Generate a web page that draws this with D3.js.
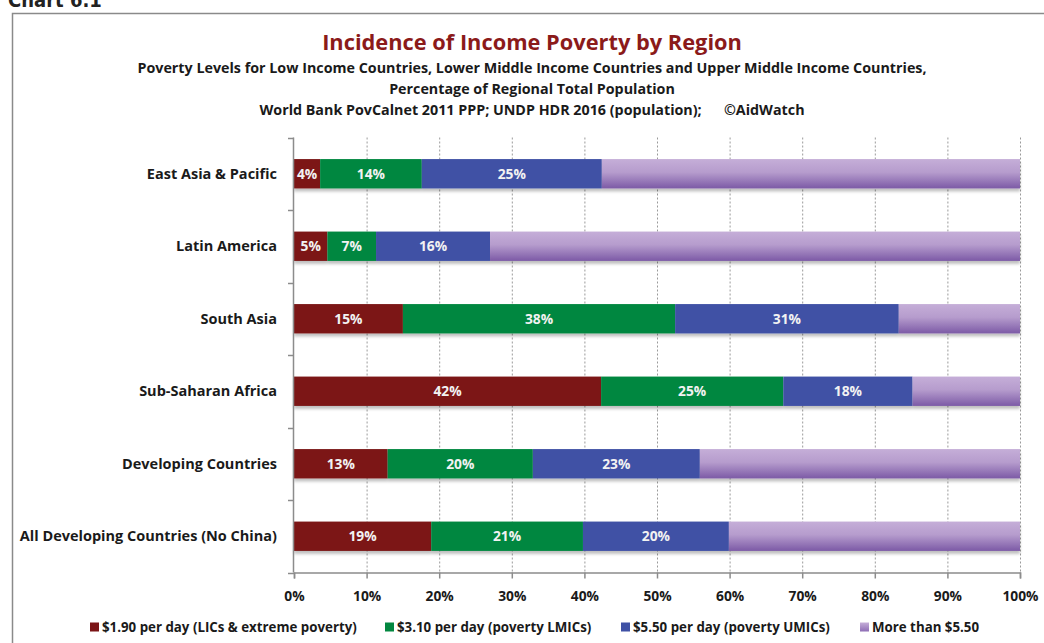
<!DOCTYPE html>
<html><head><meta charset="utf-8">
<script src="https://cdn.jsdelivr.net/npm/d3@7"></script>
<style>
body{margin:0;background:#fff;}
svg{display:block;font-family:"Open Sans",Lato,sans-serif;}
</style></head>
<body><svg id="c" width="1044" height="643"></svg>
<script>
const categories = ["East Asia & Pacific","Latin America","South Asia","Sub-Saharan Africa","Developing Countries","All Developing Countries (No China)"];
const seriesNames = ["$1.90 per day (LICs & extreme poverty)","$3.10 per day (poverty LMICs)","$5.50 per day (poverty UMICs)","More than $5.50"];
const s190 = [3.6, 4.6, 15.0, 42.3, 12.9, 18.9];
const s310 = [14.0, 6.7, 37.5, 25.1, 20.0, 20.9];
const s550 = [24.8, 15.7, 30.8, 17.8, 23.0, 20.1];
const sMore = [57.6, 73.0, 16.7, 14.9, 44.1, 40.1];
const tickValues = [0,10,20,30,40,50,60,70,80,90,100];
const colors = ["#7B1416","#028740","#3F51A5","url(#purp)"];
const legendColors = ["#7B1416","#028740","#3F51A5","#A98BC6"];

const svg = d3.select("#c");
const defs = svg.append("defs");
const g1 = defs.append("linearGradient").attr("id","purp").attr("x1",0).attr("y1",0).attr("x2",0).attr("y2",1);
g1.append("stop").attr("offset","0").attr("stop-color","#C5AED8");
g1.append("stop").attr("offset","0.45").attr("stop-color","#B69CCD");
g1.append("stop").attr("offset","1").attr("stop-color","#7C5AA6");
const lg = defs.append("linearGradient").attr("id","purpL").attr("x1",0).attr("y1",0).attr("x2",0).attr("y2",1);
lg.append("stop").attr("offset","0").attr("stop-color","#C5AED8");
lg.append("stop").attr("offset","1").attr("stop-color","#8E6DB5");
const flt = defs.append("filter").attr("id","sh").attr("x","-5%").attr("y","-20%").attr("width","110%").attr("height","160%");
flt.append("feGaussianBlur").attr("in","SourceAlpha").attr("stdDeviation",1.5).attr("result","b");
flt.append("feOffset").attr("in","b").attr("dx",0).attr("dy",2.5).attr("result","o");
flt.append("feComponentTransfer").attr("in","o").attr("result","o2").append("feFuncA").attr("type","linear").attr("slope",0.25);
const fm = flt.append("feMerge"); fm.append("feMergeNode").attr("in","o2"); fm.append("feMergeNode").attr("in","SourceGraphic");

// Chart label (cut off at top, as in the reference)
svg.append("text").attr("x",8).attr("y",7).attr("font-size",20).attr("font-weight",900)
  .attr("font-family","'Liberation Sans Narrow','DejaVu Sans Condensed',sans-serif").attr("fill","#222").text("Chart 6.1");
// frame
svg.append("rect").attr("x",12.5).attr("y",13.5).attr("width",1100).attr("height",700)
  .attr("fill","none").attr("stroke","#8a8a8a").attr("stroke-width",1.5);

// titles
svg.append("text").attr("x",532).attr("y",50).attr("text-anchor","middle").attr("font-size",21.8).attr("font-weight",700)
  .attr("fill","#8B1A1A").text("Incidence of Income Poverty by Region");
const subs = ["Poverty Levels for Low Income Countries, Lower Middle Income Countries and Upper Middle Income Countries,",
  "Percentage of Regional Total Population",
  "World Bank PovCalnet 2011 PPP; UNDP HDR 2016 (population);      \u00A9AidWatch"];
subs.forEach((s,i)=>{
  svg.append("text").attr("x",532).attr("y",73+i*21).attr("text-anchor","middle").attr("font-size",14.3).attr("font-weight",700)
    .attr("fill","#1a1a1a").attr("xml:space","preserve").style("white-space","pre").text(s);
});

const yTop = 137.5, yBot = 572.5;
const x = d3.scaleLinear().domain([0,100]).range([294,1020]);
const y = d3.scaleBand().domain(categories).range([yTop,yBot]).paddingInner(0.595).paddingOuter(0.2975);

// gridlines
svg.append("g").selectAll("line").data(tickValues.slice(1)).join("line")
  .attr("x1",d=>x(d)+0.5).attr("x2",d=>x(d)+0.5).attr("y1",yTop).attr("y2",yBot)
  .attr("stroke","#9a9a9a").attr("stroke-width",1).attr("stroke-dasharray","2,2");

// data
const data = categories.map((c,i)=>({cat:c, vals:[s190[i],s310[i],s550[i],sMore[i]]}));
const stackData = data.map(d=>{let acc=0; return d.vals.map((v,k)=>{const o={cat:d.cat,k,v,x0:acc,x1:Math.min(100,acc+v)}; acc+=v; return o;});});

const rows = svg.append("g").selectAll("g").data(stackData).join("g").attr("filter","url(#sh)");
rows.selectAll("rect").data(d=>d).join("rect")
  .attr("x",d=>x(d.x0)).attr("width",d=>x(d.x1)-x(d.x0))
  .attr("y",d=>y(d.cat)).attr("height",y.bandwidth())
  .attr("fill",d=>colors[d.k]);
svg.append("g").selectAll("text").data(stackData.flat().filter(d=>d.k<3)).join("text")
  .attr("x",d=>x((d.x0+d.x1)/2)).attr("y",d=>y(d.cat)+y.bandwidth()/2+5)
  .attr("text-anchor","middle").attr("font-size",13.8).attr("font-weight",700).attr("fill","#F2F2F2")
  .text(d=>Math.round(d.v)+"%");

// y axis
const yAx = svg.append("g");
yAx.append("line").attr("x1",293.5).attr("x2",293.5).attr("y1",yTop).attr("y2",yBot).attr("stroke","#8c8c8c").attr("stroke-width",1.5);
const bounds = d3.range(categories.length+1).map(i=>yTop+i*((yBot-yTop)/categories.length));
yAx.selectAll("line.t").data(bounds).join("line").attr("class","t")
  .attr("x1",288).attr("x2",294).attr("y1",d=>Math.round(d)+0.5).attr("y2",d=>Math.round(d)+0.5)
  .attr("stroke","#8c8c8c").attr("stroke-width",1.5);
yAx.selectAll("text").data(categories).join("text")
  .attr("x",277).attr("y",d=>y(d)+y.bandwidth()/2+5).attr("text-anchor","end")
  .attr("font-size",14.5).attr("font-weight",700).attr("fill","#1a1a1a").text(d=>d);

// x axis
const xAxis = d3.axisBottom(x).tickValues(tickValues).tickFormat(d=>d+"%").tickSize(6).tickPadding(13);
const xg = svg.append("g").attr("transform",`translate(0,${yBot})`).call(xAxis);
xg.select(".domain").attr("stroke","#8c8c8c").attr("stroke-width",1.5);
xg.selectAll(".tick line").attr("stroke","#8c8c8c").attr("stroke-width",1.5);
xg.selectAll(".tick text").attr("font-size",13.8).attr("font-weight",700).attr("fill","#1a1a1a").attr("font-family","'Open Sans',sans-serif");

// legend
const legX = [90, 385, 621, 860];
const leg = svg.append("g").selectAll("g").data(seriesNames).join("g")
  .attr("transform",(d,i)=>`translate(${legX[i]},632)`);
leg.append("rect").attr("x",0).attr("y",-9.5).attr("width",9).attr("height",9)
  .attr("fill",(d,i)=> i===3 ? "url(#purpL)" : legendColors[i]);
leg.append("text").attr("x",12).attr("y",0).attr("font-size",13.3).attr("font-weight",700).attr("fill","#1a1a1a").text(d=>d);
</script></body></html>
